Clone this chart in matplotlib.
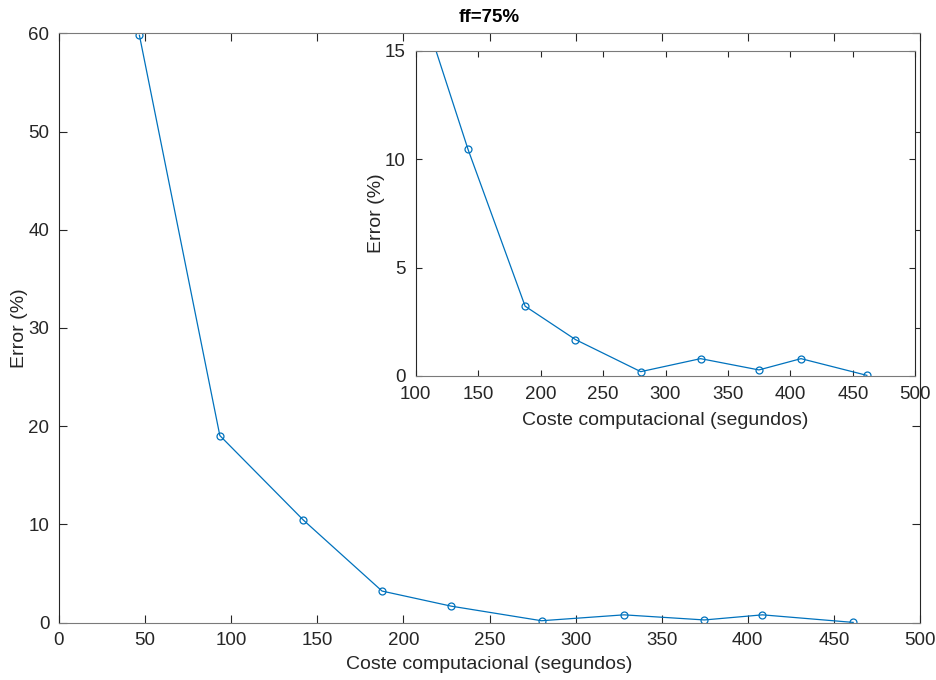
import matplotlib.pyplot as plt

plt.rcParams['font.family'] = ['Liberation Sans', 'DejaVu Sans']

# coste computacional (s) y error (%)
coste = [46.7, 93.4, 141.9, 187.6, 227.9, 280.2, 328.1, 374.8, 408.5, 461.2]
error = [59.8, 19.05, 10.45, 3.22, 1.68, 0.2, 0.8, 0.28, 0.8, 0.03]

main_xticks = [0, 50, 100, 150, 200, 250, 300, 350, 400, 450, 500]
main_yticks = [0, 10, 20, 30, 40, 50, 60]
inset_xticks = [100, 150, 200, 250, 300, 350, 400, 450, 500]
inset_yticks = [0, 5, 10, 15]

azul = "#0072BD"
eje = "#262626"

fig = plt.figure(figsize=(9.36, 6.8), dpi=100)


def estilo(ax, xt, yt, xl, yl, tl, ypad, xpad):
    ax.set_xlim(xl)
    ax.set_ylim(yl)
    ax.set_xticks(xt)
    ax.set_yticks(yt)
    ax.tick_params(direction="in", top=True, right=True, length=tl, width=0.8,
                   colors=eje, labelsize=13.5, pad=7)
    for k, s in ax.spines.items():
        s.set_linewidth(0.8)
        s.set_color(eje if k in ("left", "right") else "#7a7a7a")
    ax.set_xlabel("Coste computacional (segundos)", fontsize=14, color=eje, labelpad=xpad)
    ax.set_ylabel("Error (%)", fontsize=14, color=eje, labelpad=ypad)


ax = fig.add_axes([59/936, 57.3/680, 861/936, 589.4/680])
ax.plot(coste, error, color=azul, lw=0.9, marker="o", ms=5, mfc="none", mew=0.9)
estilo(ax, main_xticks, main_yticks, (0, 500), (0, 60), 6, 0, 5)
ax.set_title("ff=75%", fontsize=13.5, fontweight="bold", pad=8)

ins = fig.add_axes([415.7/936, 304/680, 499.6/936, 325.3/680])
ins.plot(coste, error, color=azul, lw=0.9, marker="o", ms=5, mfc="none", mew=0.9)
estilo(ins, inset_xticks, inset_yticks, (100, 500), (0, 15), 4, 0, 7)

fig.savefig("out.png", dpi=100)
